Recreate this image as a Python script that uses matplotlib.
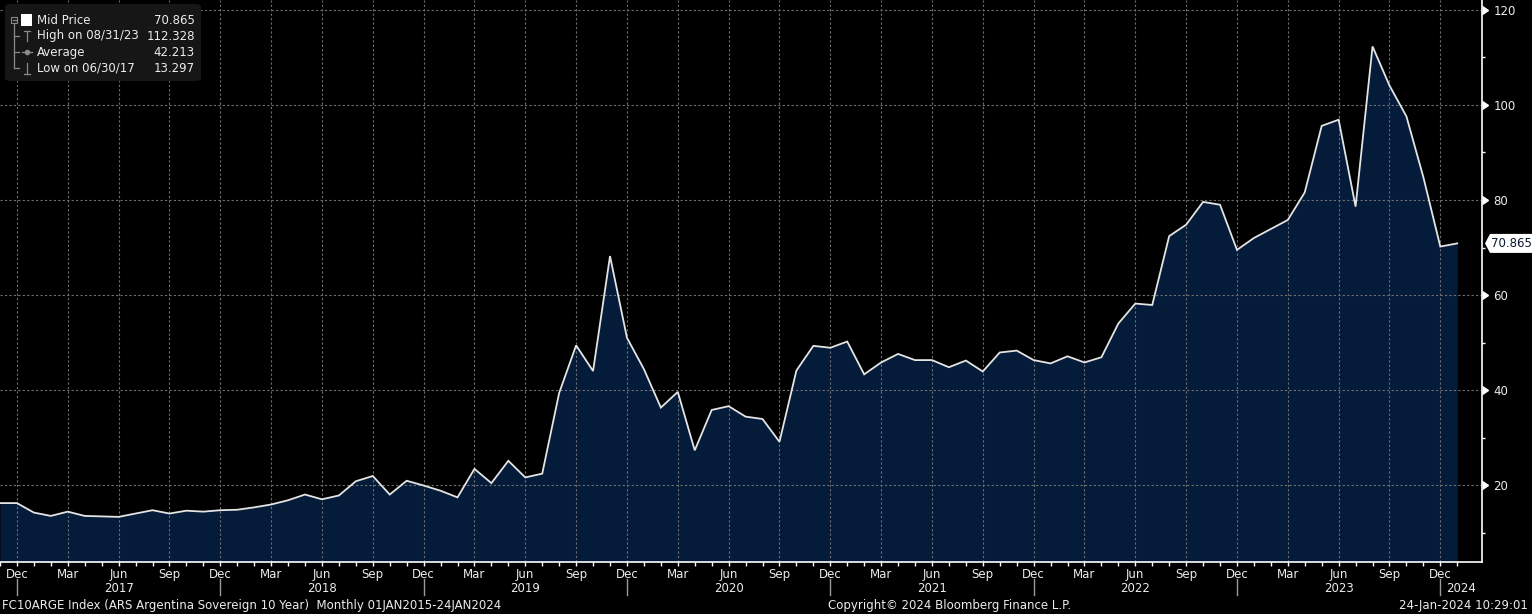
import numpy as np
import pandas as pd
import matplotlib
matplotlib.use("Agg")
import matplotlib.pyplot as plt
import matplotlib.transforms as mtransforms
from matplotlib.patches import FancyBboxPatch, Polygon, Rectangle
from matplotlib.lines import Line2D

# ---------------- data ----------------
months = pd.period_range("2016-11", "2024-01", freq="M")
mid_price = [
    16.2, 16.2,
    14.2, 13.5, 14.4, 13.5, 13.4, 13.297, 14.0, 14.7, 14.0, 14.6, 14.4, 14.7,
    14.8, 15.3, 15.9, 16.8, 18.0, 17.0, 17.8, 20.8, 21.9, 18.0, 20.9, 19.9,
    18.8, 17.4, 23.4, 20.4, 25.1, 21.6, 22.4, 39.4, 49.4, 44.0, 68.2, 51.0,
    44.4, 36.3, 39.6, 27.3, 35.8, 36.6, 34.4, 33.9, 29.1, 44.1, 49.3, 48.9,
    50.2, 43.3, 45.8, 47.6, 46.3, 46.3, 44.8, 46.2, 43.9, 47.9, 48.3, 46.3,
    45.6, 47.1, 45.8, 46.9, 54.0, 58.2, 57.9, 72.4, 74.8, 79.6, 79.0, 69.5,
    72.0, 73.9, 75.8, 81.6, 95.6, 96.9, 78.6, 112.328, 104.1, 97.6, 84.8, 70.2,
    70.865,
]
legend_labels = ["Mid Price", "High on 08/31/23", "Average", "Low on 06/30/17"]
legend_values = ["70.865", "112.328", "42.213", "13.297"]
y_ticks = [20, 40, 60, 80, 100, 120]
y_minor = [10, 30, 50, 70, 90, 110]
footer_left = "FC10ARGE Index (ARS Argentina Sovereign 10 Year)  Monthly 01JAN2015-24JAN2024"
footer_mid = "Copyright\u00a9 2024 Bloomberg Finance L.P."
footer_right = "24-Jan-2024 10:29:01"

# ---------------- style ----------------
W, H = 1532, 614
BG = "#000000"
FILL = "#041c3a"
LINE = "#e4e4e4"
TXT = "#ececec"
GRID = "#6f6f6f"
FONT = "DejaVu Sans"
FS = 8.45
plt.rcParams["font.family"] = [FONT]

fig = plt.figure(figsize=(W / 100, H / 100), dpi=100, facecolor=BG)


def fx(x):
    return x / W


def fy(y):
    return 1 - y / H


ax_left, ax_right, ax_top, ax_bot = 0, 1482, 0, 562
ax = fig.add_axes([fx(ax_left), fy(ax_bot), fx(ax_right - ax_left), (ax_bot - ax_top) / H])
ax.set_facecolor(BG)

x = np.arange(len(mid_price))
y0, y1 = 3.8, 122.1
spacing = 16.95
x_lo = 1 - 16.5 / spacing
x_hi = 1 + (ax_right - 16.5) / spacing
ax.set_xlim(x_lo, x_hi)
ax.set_ylim(y0, y1)

ax.fill_between(x, mid_price, y0, color=FILL, lw=0, zorder=1)
ax.plot(x, mid_price, color=LINE, lw=1.3, zorder=3, solid_joinstyle="miter")

# x ticks
quarter_idx = [i for i, m in enumerate(months) if m.month in (3, 6, 9, 12)]
quarter_lab = [months[i].strftime("%b") for i in quarter_idx]
ax.set_xticks(quarter_idx)
ax.set_xticklabels(quarter_lab)
ax.set_xticks(x, minor=True)
ax.tick_params(axis="x", which="both", direction="out", length=3.2, width=1,
               color="#ffffff", labelcolor=TXT, labelsize=FS, pad=1.2)

# y ticks on right
ax.yaxis.tick_right()
ax.set_yticks(y_ticks)
ax.set_yticklabels([str(v) for v in y_ticks])
ax.set_yticks(y_minor, minor=True)
ax.tick_params(axis="y", which="major", length=0, pad=8.2, labelcolor=TXT, labelsize=FS)
ax.tick_params(axis="y", which="minor", length=2.5, width=1, color="#ffffff")
btrans = mtransforms.blended_transform_factory(ax.transAxes, ax.transData)
ax.plot([1.0] * len(y_ticks), y_ticks, linestyle="none", marker=9, markersize=5.5,
        color="#ffffff", transform=btrans, clip_on=False, zorder=5)

# grid
for q in quarter_idx:
    ax.axvline(q, color=GRID, lw=0.8, linestyle=(0, (2, 2)), zorder=2)
for v in y_ticks:
    ax.axhline(v, color=GRID, lw=0.8, linestyle=(0, (2, 2)), zorder=2)

for s in ("top", "left"):
    ax.spines[s].set_visible(False)
for s in ("right", "bottom"):
    ax.spines[s].set_color("#ffffff")
    ax.spines[s].set_linewidth(1.2)

# year labels and separators
xtrans = mtransforms.blended_transform_factory(ax.transData, ax.transAxes)
dec_idx = [i for i, m in enumerate(months) if m.month == 12]
sep_top = (ax_bot - 579) / (ax_bot - ax_top)
sep_bot = (ax_bot - 595) / (ax_bot - ax_top)
year_y = (ax_bot - 588) / (ax_bot - ax_top)
for d in dec_idx:
    ax.add_line(Line2D([d, d], [sep_top, sep_bot], color="#9a9a9a", lw=1,
                       transform=xtrans, clip_on=False))
bounds = dec_idx + [x_hi]
for a, b in zip(bounds[:-1], bounds[1:]):
    yr = months[a].year + 1
    ax.text((a + b) / 2, year_y, str(yr), transform=xtrans, ha="center", va="center",
            color=TXT, fontsize=FS, clip_on=False)

# footer
fig.text(fx(2), fy(605), footer_left, ha="left", va="center", color=TXT, fontsize=FS)
fig.text(fx(949), fy(605), footer_mid, ha="center", va="center", color=TXT, fontsize=FS)
fig.text(fx(1528), fy(605), footer_right, ha="right", va="center", color=TXT, fontsize=FS)

# legend box
fig.patches.append(FancyBboxPatch((fx(5), fy(81)), fx(196), 77 / H,
                                  boxstyle="round,pad=0,rounding_size=0.004",
                                  transform=fig.transFigure, fc="#161616", ec="none", zorder=10))
rows = [20, 36, 52.3, 68.3]
for lab, val, ry in zip(legend_labels, legend_values, rows):
    fig.text(fx(37), fy(ry), lab, ha="left", va="center", color=TXT, fontsize=FS, zorder=12)
    fig.text(fx(195), fy(ry), val, ha="right", va="center", color=TXT, fontsize=FS, zorder=12)
tc = "#8a8a8a"


def fline(xs, ys, c=tc, lw=0.9):
    fig.lines.append(Line2D([fx(v) for v in xs], [fy(v) for v in ys], color=c, lw=lw,
                            transform=fig.transFigure, zorder=11))


# tree glyphs
fig.patches.append(Rectangle((fx(11), fy(23)), fx(6), 6 / H, transform=fig.transFigure,
                             fc="none", ec=tc, lw=0.8, zorder=11))
fline([12.5, 15.5], [20, 20])
fline([14, 14], [23, 68.3])
for ry in rows[1:]:
    fline([14, 19], [ry, ry])
fig.patches.append(Rectangle((fx(21), fy(25.5)), fx(11), 11 / H, transform=fig.transFigure,
                             fc="#ffffff", ec="none", zorder=11))
fline([24, 30], [30.5, 30.5])
fline([27, 27], [30.5, 41])
fline([22, 32], [52.3, 52.3])
fig.lines.append(Line2D([fx(27)], [fy(52.3)], marker="o", markersize=3, color=tc,
                        transform=fig.transFigure, zorder=11))
fline([27, 27], [63, 73.5])
fline([24, 30], [73.5, 73.5])

# last value label
fig.canvas.draw()
px_x = ax.transAxes.transform((1, 0))[0]
px_y = ax.transData.transform((0, mid_price[-1]))[1]
tip = px_x + 3
verts = [(tip, px_y), (tip + 5, px_y + 9.5), (W, px_y + 9.5), (W, px_y - 9.5), (tip + 5, px_y - 9.5)]
fig.patches.append(Polygon(verts, closed=True, transform=mtransforms.IdentityTransform(),
                           fc="#ffffff", ec="none", zorder=10))
fig.text((tip + 5 + (W - tip - 5) / 2) / W, px_y / H, f"{mid_price[-1]:.3f}", ha="center",
         va="center", color="#0a1a30", fontsize=FS, zorder=12)

fig.savefig("out.png", dpi=100, facecolor=BG)
